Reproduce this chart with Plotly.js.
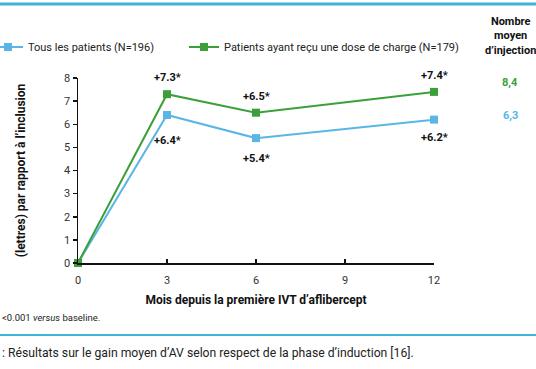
<!DOCTYPE html>
<html><head><meta charset="utf-8">
<script src="https://cdn.plot.ly/plotly-3.0.1.min.js"></script>
<style>html,body{margin:0;padding:0;background:#fff}</style>
</head><body>
<div id="chart" style="width:536px;height:369px"></div>
<script>
const months = [0, 3, 6, 9, 12];
const xMonths = [0, 3, 6, 12];
const allPatients = [0, 6.4, 5.4, 6.2];
const loadingDose = [0, 7.3, 6.5, 7.4];
const allLabels = ['', '+6.4*', '+5.4*', '+6.2*'];
const loadingLabels = ['', '+7.3*', '+6.5*', '+7.4*'];
const seriesNames = ['Tous les patients (N=196)', 'Patients ayant reçu une dose de charge (N=179)'];
const injections = ['8,4', '6,3'];
const yTicks = [0, 1, 2, 3, 4, 5, 6, 7, 8];

// label pixel offsets (style only)
const allShift = [0, -25, -20, -18];
const loadingShift = [0, 17, 16, 16];

const blue = '#5ab6e6';
const green = '#3c9f3a';
const W = 536, L = 78, R = 102, T = 78, B = 106;
const pw = W - L - R, ph = 369 - T - B;
const px = v => (v - L) / pw;
const py = v => (369 - B - v) / ph;

const traces = [
  {x: xMonths, y: allPatients, name: seriesNames[0], mode: 'lines+markers', legend: 'legend',
   line: {color: blue, width: 2}, marker: {symbol: 'square', size: 8, color: blue},
   cliponaxis: false},
  {x: xMonths, y: loadingDose, name: seriesNames[1], mode: 'lines+markers', legend: 'legend2',
   line: {color: green, width: 2}, marker: {symbol: 'square', size: 8, color: green},
   cliponaxis: false}
];

const labelFont = {family: 'Roboto', size: 11, color: '#111', weight: 'bold'};
const pointLabels = [];
xMonths.forEach((m, i) => {
  if (allLabels[i]) pointLabels.push({x: m, y: allPatients[i], text: allLabels[i], showarrow: false,
    yshift: allShift[i], xanchor: 'center', yanchor: 'middle', font: labelFont});
  if (loadingLabels[i]) pointLabels.push({x: m, y: loadingDose[i], text: loadingLabels[i], showarrow: false,
    yshift: loadingShift[i], xanchor: 'center', yanchor: 'middle', font: labelFont});
});

const legendBase = {orientation: 'h', xanchor: 'left', yanchor: 'middle', y: py(47),
  font: {family: 'Roboto', size: 11, color: '#222'}, itemwidth: 30,
  bgcolor: 'rgba(0,0,0,0)'};

const layout = {
  width: 536, height: 369,
  margin: {l: L, r: R, t: T, b: B, pad: 0, autoexpand: false},
  paper_bgcolor: '#fff', plot_bgcolor: '#fff',
  font: {family: 'Roboto', size: 11, color: '#222'},
  showlegend: true,
  legend: Object.assign({}, legendBase, {x: px(-12)}),
  legend2: Object.assign({}, legendBase, {x: px(184)}),
  xaxis: {range: [0, 12], tickvals: months, ticktext: months.map(String), automargin: false,
          showgrid: false, zeroline: false, showline: true, linecolor: '#111', linewidth: 1.5,
          ticks: 'inside', ticklen: 4, tickcolor: '#111', tickwidth: 1.5, ticklabelstandoff: 6,
          tickfont: {size: 11, color: '#333'},
          title: {text: 'Mois depuis la première IVT d\u2019aflibercept', standoff: 10,
                  font: {family: 'Roboto', size: 12, color: '#111', weight: 'bold'}}},
  yaxis: {range: [0, 8], tickvals: yTicks, showgrid: false, zeroline: false, automargin: false,
          showline: true, linecolor: '#111', linewidth: 1.5,
          ticks: 'outside', ticklen: 4, tickcolor: '#111', tickwidth: 1.5,
          tickfont: {size: 11, color: '#333'},
          title: {text: '(lettres) par rapport à l\u2019inclusion', standoff: 36,
                  font: {family: 'Roboto', size: 12, color: '#111', weight: 'bold'}}},
  shapes: [
    {type: 'line', xref: 'paper', yref: 'paper', x0: px(0), x1: px(536), y0: py(4), y1: py(4),
     line: {color: '#3fb4d6', width: 3}},
    {type: 'line', xref: 'paper', yref: 'paper', x0: px(0), x1: px(536), y0: py(335), y1: py(335),
     line: {color: '#3fb4d6', width: 2}}
  ],
  annotations: pointLabels.concat([
    {xref: 'paper', yref: 'paper', x: px(511), y: py(36), xanchor: 'center', yanchor: 'middle',
     text: 'Nombre<br>moyen<br>d\u2019injection', showarrow: false, align: 'center',
     font: {family: 'Roboto', size: 11, color: '#111', weight: 'bold'}},
    {xref: 'paper', yref: 'paper', x: px(510), y: py(82), xanchor: 'center', yanchor: 'middle',
     text: injections[0], showarrow: false,
     font: {family: 'Roboto', size: 11, color: green, weight: 'bold'}},
    {xref: 'paper', yref: 'paper', x: px(510), y: py(115), xanchor: 'center', yanchor: 'middle',
     text: injections[1], showarrow: false,
     font: {family: 'Roboto', size: 11, color: blue, weight: 'bold'}},
    {xref: 'paper', yref: 'paper', x: px(0), y: py(317), xanchor: 'left', yanchor: 'middle',
     text: '<0.001 <i>versus</i> baseline.', showarrow: false,
     font: {family: 'Roboto', size: 9.5, color: '#222'}},
    {xref: 'paper', yref: 'paper', x: px(0), y: py(353), xanchor: 'left', yanchor: 'middle',
     text: ': Résultats sur le gain moyen d\u2019AV selon respect de la phase d\u2019induction [16].',
     showarrow: false, font: {family: 'Roboto', size: 12.2, color: '#222'}}
  ])
};

Plotly.newPlot('chart', traces, layout, {displayModeBar: false, staticPlot: true});
</script>
</body></html>
